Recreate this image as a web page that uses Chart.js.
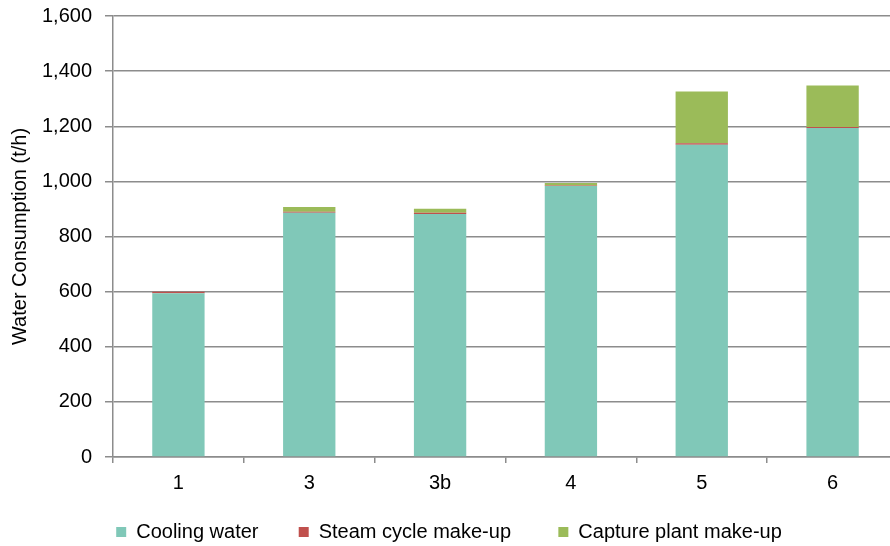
<!DOCTYPE html>
<html>
<head>
<meta charset="utf-8">
<title>Water Consumption</title>
<script src="https://cdn.jsdelivr.net/npm/chart.js@4"></script>
<style>
  html, body { margin: 0; padding: 0; background: #fff; overflow: hidden; }
  #wrap { width: 890px; height: 546px; overflow: hidden; }
</style>
</head>
<body>
<div id="wrap">
  <canvas id="waterChart" width="898" height="546"></canvas>
</div>
<script>
const cases = ["1", "3", "3b", "4", "5", "6"];
const coolingWater = [594, 886, 882, 983, 1133, 1194];
const steamMakeUp = [6, 4, 4, 2, 5, 3];
const captureMakeUp = [0, 17, 15, 9, 188, 151];

const gridGrey = "#8c8c8c";
const fontFamily = "'Liberation Sans', Arial, sans-serif";
const legendPad = 14;
const legendGaps = ["    \u2009", "      ", ""];

const ctx = document.getElementById("waterChart").getContext("2d");

new Chart(ctx, {
  type: "bar",
  data: {
    labels: cases,
    datasets: [
      {
        label: "Cooling water",
        data: coolingWater,
        backgroundColor: "#80C8B8",
        barPercentage: 0.4,
        categoryPercentage: 1,
      },
      {
        label: "Steam cycle make-up",
        data: steamMakeUp,
        backgroundColor: "#C0504D",
        barPercentage: 0.4,
        categoryPercentage: 1,
      },
      {
        label: "Capture plant make-up",
        data: captureMakeUp,
        backgroundColor: "#9BBB59",
        barPercentage: 0.4,
        categoryPercentage: 1,
      },
    ],
  },
  options: {
    responsive: false,
    animation: false,
    layout: { padding: { top: 16, right: 0, bottom: -6, left: 0 } },
    plugins: {
      tooltip: { enabled: false },
      legend: {
        position: "bottom",
        labels: {
          boxWidth: 10,
          boxHeight: 10,
          padding: legendPad,
          color: "#000",
          font: { family: fontFamily, size: 20 },
          // wider gaps between items without growing the legend vertically
          generateLabels: (chart) => {
            const items = Chart.defaults.plugins.legend.labels.generateLabels(chart);
            return items.map((item, i) => ({ ...item, text: item.text + legendGaps[i] }));
          },
        },
      },
    },
    scales: {
      x: {
        stacked: true,
        afterFit: (scale) => { scale.height = 65 - legendPad; },
        border: { color: gridGrey, width: 1.5 },
        grid: {
          offset: true,
          drawOnChartArea: false,
          color: gridGrey,
          lineWidth: 1.5,
          tickLength: 6,
        },
        ticks: {
          color: "#000",
          padding: 8,
          font: { family: fontFamily, size: 20 },
        },
      },
      y: {
        stacked: true,
        min: 0,
        max: 1600,
        afterFit: (scale) => {
          scale.width = 113;
          scale.paddingTop = 0;
        },
        border: { color: gridGrey, width: 1.5 },
        grid: {
          color: gridGrey,
          lineWidth: 1.5,
          tickLength: 8,
        },
        ticks: {
          stepSize: 200,
          color: "#000",
          padding: 13,
          font: { family: fontFamily, size: 20 },
          callback: (v) => v.toLocaleString("en-US"),
        },
        title: {
          display: true,
          text: "Water Consumption (t/h)",
          color: "#000",
          padding: { top: 8, bottom: 0 },
          font: { family: fontFamily, size: 20 },
        },
      },
    },
  },
});
</script>
</body>
</html>
